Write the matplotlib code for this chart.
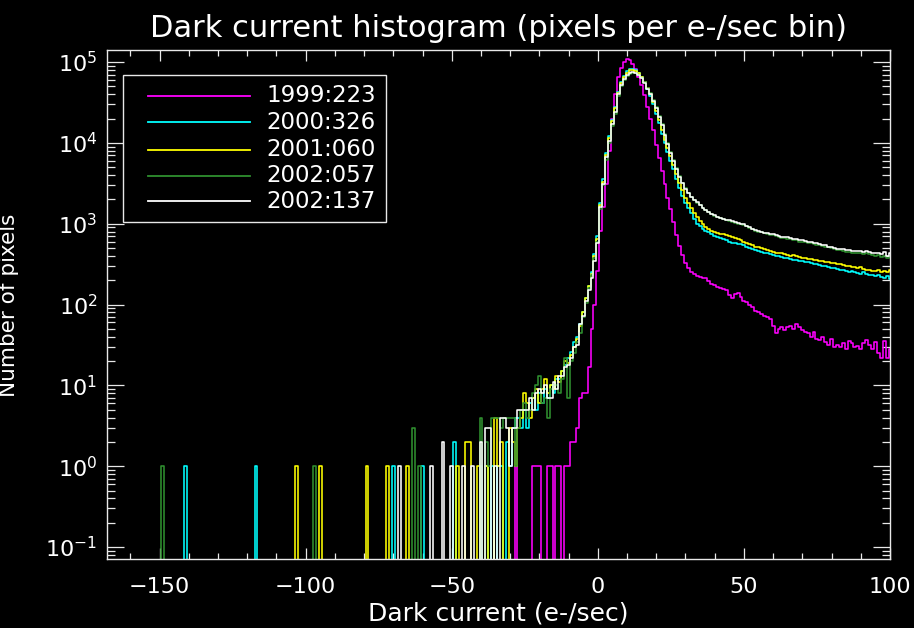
import numpy as np
import matplotlib
matplotlib.use("Agg")
import matplotlib.pyplot as plt
from matplotlib.ticker import FixedLocator, MultipleLocator, FuncFormatter, NullFormatter

# ---------------- data ----------------
labels = ["1999:223", "2000:326", "2001:060", "2002:057", "2002:137"]
colors = ["#ff00ff", "#00ffff", "#ffff00", "#2f8f2f", "#ffffff"]

x_min, x_max = -170, 100          # histogram bin centres (1 e-/sec bins)
dense_start = -45                 # dense lists cover -45 .. 100

mag_dense = [
    0, 0, 0, 0, 0, 0, 0, 0, 0, 0,
    0, 0, 0, 0, 0, 0, 0, 1, 0, 0,
    0, 0, 0, 1, 1, 1, 0, 0, 1, 1,
    0, 1, 1, 0, 1, 1, 2, 2, 3, 7,
    8, 8, 17, 50, 100, 260, 820, 1600, 3100, 8000,
    20000, 40000, 65000, 85000, 100000, 110000, 105000, 95000, 82000, 66000,
    52000, 39000, 28000, 20000, 14500, 9500, 6500, 4500, 3100, 2100,
    1500, 1050, 720, 530, 410, 330, 280, 250, 240, 225,
    220, 215, 210, 195, 180, 175, 165, 160, 155, 150,
    130, 120, 135, 137, 125, 112, 108, 100, 92, 84,
    80, 76, 72, 70, 66, 55, 44, 50, 52, 48,
    52, 55, 50, 58, 52, 48, 46, 44, 40, 46,
    38, 36, 40, 34, 32, 38, 30, 32, 30, 33,
    28, 35, 33, 30, 31, 28, 33, 36, 32, 28,
    34, 25, 22, 35, 22, 28,
]
cyan_dense = [
    0, 0, 0, 0, 0, 1, 0, 1, 0, 1,
    0, 1, 1, 0, 2, 1, 3, 4, 4, 3,
    5, 3, 6, 7, 5, 8, 6, 9, 7, 10,
    8, 12, 12, 15, 18, 22, 26, 34, 40, 58,
    80, 120, 170, 250, 420, 700, 1800, 3600, 7500, 12000,
    19000, 28000, 43000, 57000, 68000, 77000, 82000, 83000, 80000, 74000,
    66000, 57000, 47000, 38000, 30000, 23000, 17500, 13000, 10000, 7800,
    6000, 4800, 3600, 2800, 2200, 1800, 1550, 1350, 1150, 1000,
    930, 860, 820, 780, 740, 710, 680, 660, 640, 620,
    600, 585, 570, 560, 555, 540, 520, 500, 480, 470,
    460, 450, 440, 430, 420, 410, 400, 400, 390, 380,
    380, 370, 360, 355, 350, 345, 340, 335, 330, 320,
    315, 310, 300, 300, 290, 285, 280, 275, 270, 265,
    260, 255, 260, 250, 245, 240, 250, 240, 235, 230,
    225, 230, 220, 215, 225, 205,
]
yel_dense = [
    2, 2, 0, 0, 1, 0, 0, 1, 0, 0,
    4, 1, 2, 0, 0, 3, 2, 1, 3, 4,
    8, 6, 4, 7, 9, 6, 9, 12, 8, 10,
    9, 13, 11, 15, 20, 19, 24, 30, 38, 55,
    80, 120, 170, 240, 400, 650, 1700, 3300, 7000, 11500,
    18500, 27000, 42000, 55000, 65000, 74000, 79000, 80000, 78000, 73000,
    66000, 57000, 48000, 40000, 32000, 25000, 19000, 14500, 11000, 8600,
    6800, 5300, 4100, 3200, 2600, 2100, 1800, 1550, 1350, 1200,
    1080, 990, 920, 860, 820, 790, 770, 750, 740, 720,
    700, 680, 660, 640, 620, 600, 580, 560, 540, 520,
    510, 500, 490, 470, 460, 450, 440, 440, 430, 420,
    410, 400, 410, 400, 390, 380, 380, 370, 370, 360,
    360, 350, 350, 340, 335, 330, 330, 320, 320, 310,
    300, 300, 295, 290, 285, 290, 275, 270, 265, 260,
    260, 265, 255, 260, 250, 270,
]
grn_dense = [
    0, 0, 0, 0, 0, 4, 0, 2, 1, 4,
    4, 4, 3, 4, 4, 4, 4, 1, 3, 5,
    6, 4, 5, 8, 10, 13, 6, 7, 4, 9,
    10, 10, 8, 12, 22, 7, 20, 25, 34, 45,
    70, 105, 160, 230, 380, 600, 1500, 3000, 6200, 10000,
    16000, 23000, 38000, 50000, 60000, 68000, 72000, 74000, 73000, 70000,
    64000, 56000, 48000, 41000, 34000, 27500, 21500, 17000, 13000, 10000,
    7700, 6100, 4900, 3900, 3200, 2750, 2400, 2150, 1950, 1820,
    1700, 1580, 1470, 1390, 1320, 1260, 1210, 1170, 1130, 1100,
    1080, 1060, 1030, 1000, 980, 960, 930, 890, 850, 820,
    800, 780, 760, 740, 730, 720, 700, 690, 670, 660,
    650, 650, 630, 620, 600, 600, 590, 570, 570, 560,
    550, 540, 530, 520, 510, 500, 480, 470, 470, 460,
    450, 450, 440, 430, 430, 440, 420, 430, 420, 410,
    400, 410, 390, 400, 380, 390,
]
wht_dense = [
    0, 0, 1, 0, 0, 2, 0, 3, 3, 0,
    1, 0, 4, 4, 3, 1, 3, 3, 5, 5,
    5, 5, 7, 5, 8, 9, 8, 10, 7, 7,
    11, 9, 13, 13, 17, 18, 22, 30, 32, 58,
    73, 112, 150, 215, 350, 570, 1600, 3100, 6600, 10500,
    17000, 24000, 40000, 52000, 62000, 70000, 74000, 75000, 74000, 70000,
    63000, 55000, 47000, 40000, 33000, 27000, 21000, 16500, 12500, 9800,
    7500, 6000, 4800, 3800, 3200, 2700, 2400, 2150, 1950, 1850,
    1700, 1580, 1480, 1400, 1330, 1270, 1220, 1180, 1150, 1120,
    1100, 1080, 1050, 1020, 1000, 980, 950, 910, 870, 830,
    810, 790, 770, 760, 750, 740, 720, 700, 690, 680,
    680, 670, 650, 640, 630, 620, 610, 600, 590, 580,
    570, 560, 550, 540, 520, 510, 500, 490, 490, 480,
    470, 470, 460, 460, 455, 460, 450, 460, 450, 440,
    430, 440, 420, 450, 400, 430,
]

# isolated counts in the far negative tail (bin centre, count)
mag_tail_x, mag_tail_n = [], []
cyan_tail_x, cyan_tail_n = [-141, -117, -70, -60, -49], [1, 1, 1, 1, 2]
yel_tail_x, yel_tail_n = [-103, -95, -79, -72, -65, -48], [1, 1, 1, 1, 1, 1]
grn_tail_x, grn_tail_n = [-149, -97, -63, -61], [1, 1, 3, 1]
wht_tail_x, wht_tail_n = [-68, -57, -53, -50, -46], [1, 1, 2, 1, 1]

dense_sets = [mag_dense, cyan_dense, yel_dense, grn_dense, wht_dense]
tail_sets = [(mag_tail_x, mag_tail_n), (cyan_tail_x, cyan_tail_n),
             (yel_tail_x, yel_tail_n), (grn_tail_x, grn_tail_n),
             (wht_tail_x, wht_tail_n)]

x_ticks = [-150, -100, -50, 0, 50, 100]
y_decades = [-1, 0, 1, 2, 3, 4, 5]

# ---------------- figure ----------------
plt.rcParams['font.family'] = ['DejaVu Sans']
W, H = 914, 628
fig = plt.figure(figsize=(W / 100, H / 100), dpi=100, facecolor='black')
L, R, T, B = 107, 890, 50, 559
ax = fig.add_axes([L / W, 1 - B / H, (R - L) / W, (B - T) / H])
ax.set_facecolor('black')

xb = np.arange(x_min, x_max + 1)
for dense, (tx, tn), col in zip(dense_sets, tail_sets, colors):
    counts = np.zeros(len(xb), dtype=float)
    i0 = dense_start - x_min
    counts[i0:i0 + len(dense)] = dense
    for xx, nn in zip(tx, tn):
        counts[xx - x_min] = nn
    yplot = np.where(counts > 0, counts, 1e-3)
    ax.step(xb, yplot, where='mid', color=col, lw=1.15)

ax.set_yscale('log')
y_lo, y_hi = 0.0711, 1.41e5
ax.set_xlim(-168, 100)
ax.set_ylim(y_lo, y_hi)

ax.xaxis.set_major_locator(FixedLocator(x_ticks))
ax.xaxis.set_minor_locator(FixedLocator(list(range(-160, 101, 10))))
major_y = [10.0 ** d for d in y_decades]
minor_y = [m * 10.0 ** d for d in range(-2, 6) for m in range(2, 10)
           if y_lo <= m * 10.0 ** d <= y_hi]
ax.yaxis.set_major_locator(FixedLocator(major_y))
ax.yaxis.set_minor_locator(FixedLocator(minor_y))
ax.yaxis.set_minor_formatter(NullFormatter())
ax.xaxis.set_minor_formatter(NullFormatter())
ax.yaxis.set_major_formatter(FuncFormatter(
    lambda v, p: r'$\mathregular{10^{%d}}$' % int(round(np.log10(v)))))

for s in ax.spines.values():
    s.set_color('#e8e8e8')
    s.set_linewidth(1.0)

ax.tick_params(axis='both', which='both', direction='in', top=True, right=True,
               colors='#e8e8e8', width=0.9)
ax.tick_params(axis='x', which='major', length=8, pad=13, labelsize=16)
ax.tick_params(axis='x', which='minor', length=4.3)
ax.tick_params(axis='y', which='major', length=12.2, pad=7, labelsize=16)
ax.tick_params(axis='y', which='minor', length=5.8)
for lab in ax.get_xticklabels() + ax.get_yticklabels():
    lab.set_color('white')

# titles / labels
cx = (L + R) / 2 / W
fig.text(cx, 1 - 37 / H, "Dark current histogram (pixels per e-/sec bin)",
         ha='center', va='baseline', color='white', fontsize=22)
fig.text(cx, 1 - 620 / H, "Dark current (e-/sec)", ha='center', va='baseline',
         color='white', fontsize=18)
fig.text(9 / W, 1 - 305 / H, "Number of pixels", ha='center', va='center',
         rotation=90, color='white', fontsize=15.5)

# legend box (drawn in axes coordinates)
def axx(px):
    return (px - L) / (R - L)

def axy(py):
    return 1 - (py - T) / (B - T)

ax.add_patch(plt.Rectangle((axx(123), axy(222)), axx(386) - axx(123),
                           axy(75) - axy(222), transform=ax.transAxes,
                           facecolor='black', edgecolor='#e8e8e8', lw=1.0,
                           zorder=5))
rows_py = [96, 122.3, 149.7, 175.7, 201.3]
for lab, col, py in zip(labels, colors, rows_py):
    ax.plot([axx(148), axx(250)], [axy(py), axy(py)], color=col, lw=1.3,
            transform=ax.transAxes, zorder=6)
    ax.text(axx(266), axy(py), lab, transform=ax.transAxes, color='white',
            fontsize=16.5, ha='left', va='center', zorder=6)

fig.savefig("out.png", dpi=100, facecolor='black')
